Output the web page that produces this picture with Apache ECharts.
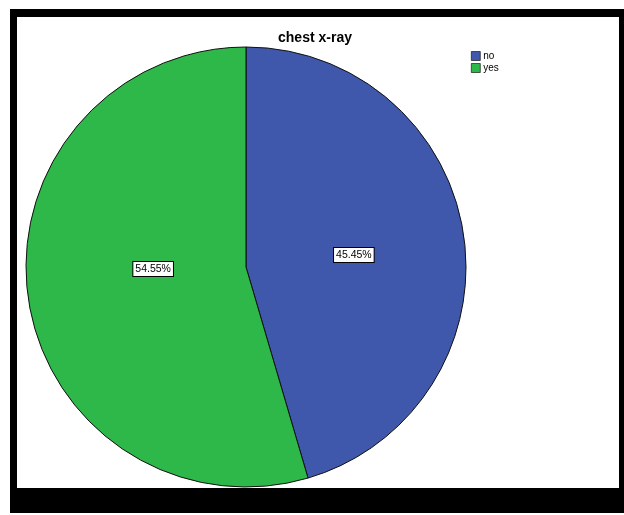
<!DOCTYPE html>
<html>
<head>
<meta charset="utf-8">
<script src="https://cdn.jsdelivr.net/npm/echarts@6/dist/echarts.min.js"></script>
<style>
  html, body { margin: 0; padding: 0; background: #fff; }
  #chart-container { width: 624px; height: 515px; }
</style>
</head>
<body>
<div id="chart-container"></div>
<script>
var myChart = echarts.init(document.getElementById('chart-container'));

// --- data ---
const categories = ['no', 'yes'];
const percentValues = [45.45, 54.55];
const sliceColors = ['#3f58ab', '#2eb84a'];
// small nudges so the boxed labels sit where SPSS put them
const labelNudges = [[-4, 4], [19, -14]];

const pieData = categories.map(function (name, i) {
    return {
        name: name,
        value: percentValues[i],
        itemStyle: { color: sliceColors[i] },
        label: { offset: labelNudges[i] }
    };
});

const option = {
    backgroundColor: '#fff',
    animation: false,
    title: {
        text: 'chest x-ray',
        left: 315,
        top: 31,
        padding: 0,
        textAlign: 'center',
        textStyle: { fontFamily: 'Liberation Sans, Arial', fontSize: 14, fontWeight: 'bold', color: '#000' }
    },
    legend: {
        orient: 'vertical',
        left: 471,
        top: 51,
        padding: 0,
        itemWidth: 9,
        itemHeight: 9,
        itemGap: 2,
        icon: 'rect',
        itemStyle: { borderColor: '#000', borderWidth: 0.6 },
        textStyle: { fontFamily: 'Liberation Sans, Arial', fontSize: 10, color: '#000', padding: [0, 0, 0, -2] },
        data: categories
    },
    // black frame around the plot
    graphic: [
        { type: 'rect', shape: { x: 10, y: 9, width: 614, height: 8 }, style: { fill: '#000' } },
        { type: 'rect', shape: { x: 10, y: 9, width: 7, height: 504 }, style: { fill: '#000' } },
        { type: 'rect', shape: { x: 619, y: 9, width: 5, height: 504 }, style: { fill: '#000' } },
        { type: 'rect', shape: { x: 10, y: 488, width: 614, height: 25 }, style: { fill: '#000' } }
    ],
    series: [{
        type: 'pie',
        center: [246, 267],
        radius: [0, 220],
        startAngle: 90,
        clockwise: true,
        data: pieData,
        itemStyle: { borderColor: '#111', borderWidth: 1 },
        label: {
            position: 'inside',
            formatter: function (p) { return p.value.toFixed(2) + '%'; },
            fontFamily: 'Liberation Sans, Arial',
            fontSize: 10.5,
            color: '#000',
            backgroundColor: '#fff',
            borderColor: '#000',
            borderWidth: 1,
            padding: [2, 2, 1, 2]
        },
        labelLine: { show: false },
        emphasis: { disabled: true }
    }]
};

myChart.setOption(option);

window.addEventListener('resize', function () {
    myChart.resize();
});
</script>
</body>
</html>
